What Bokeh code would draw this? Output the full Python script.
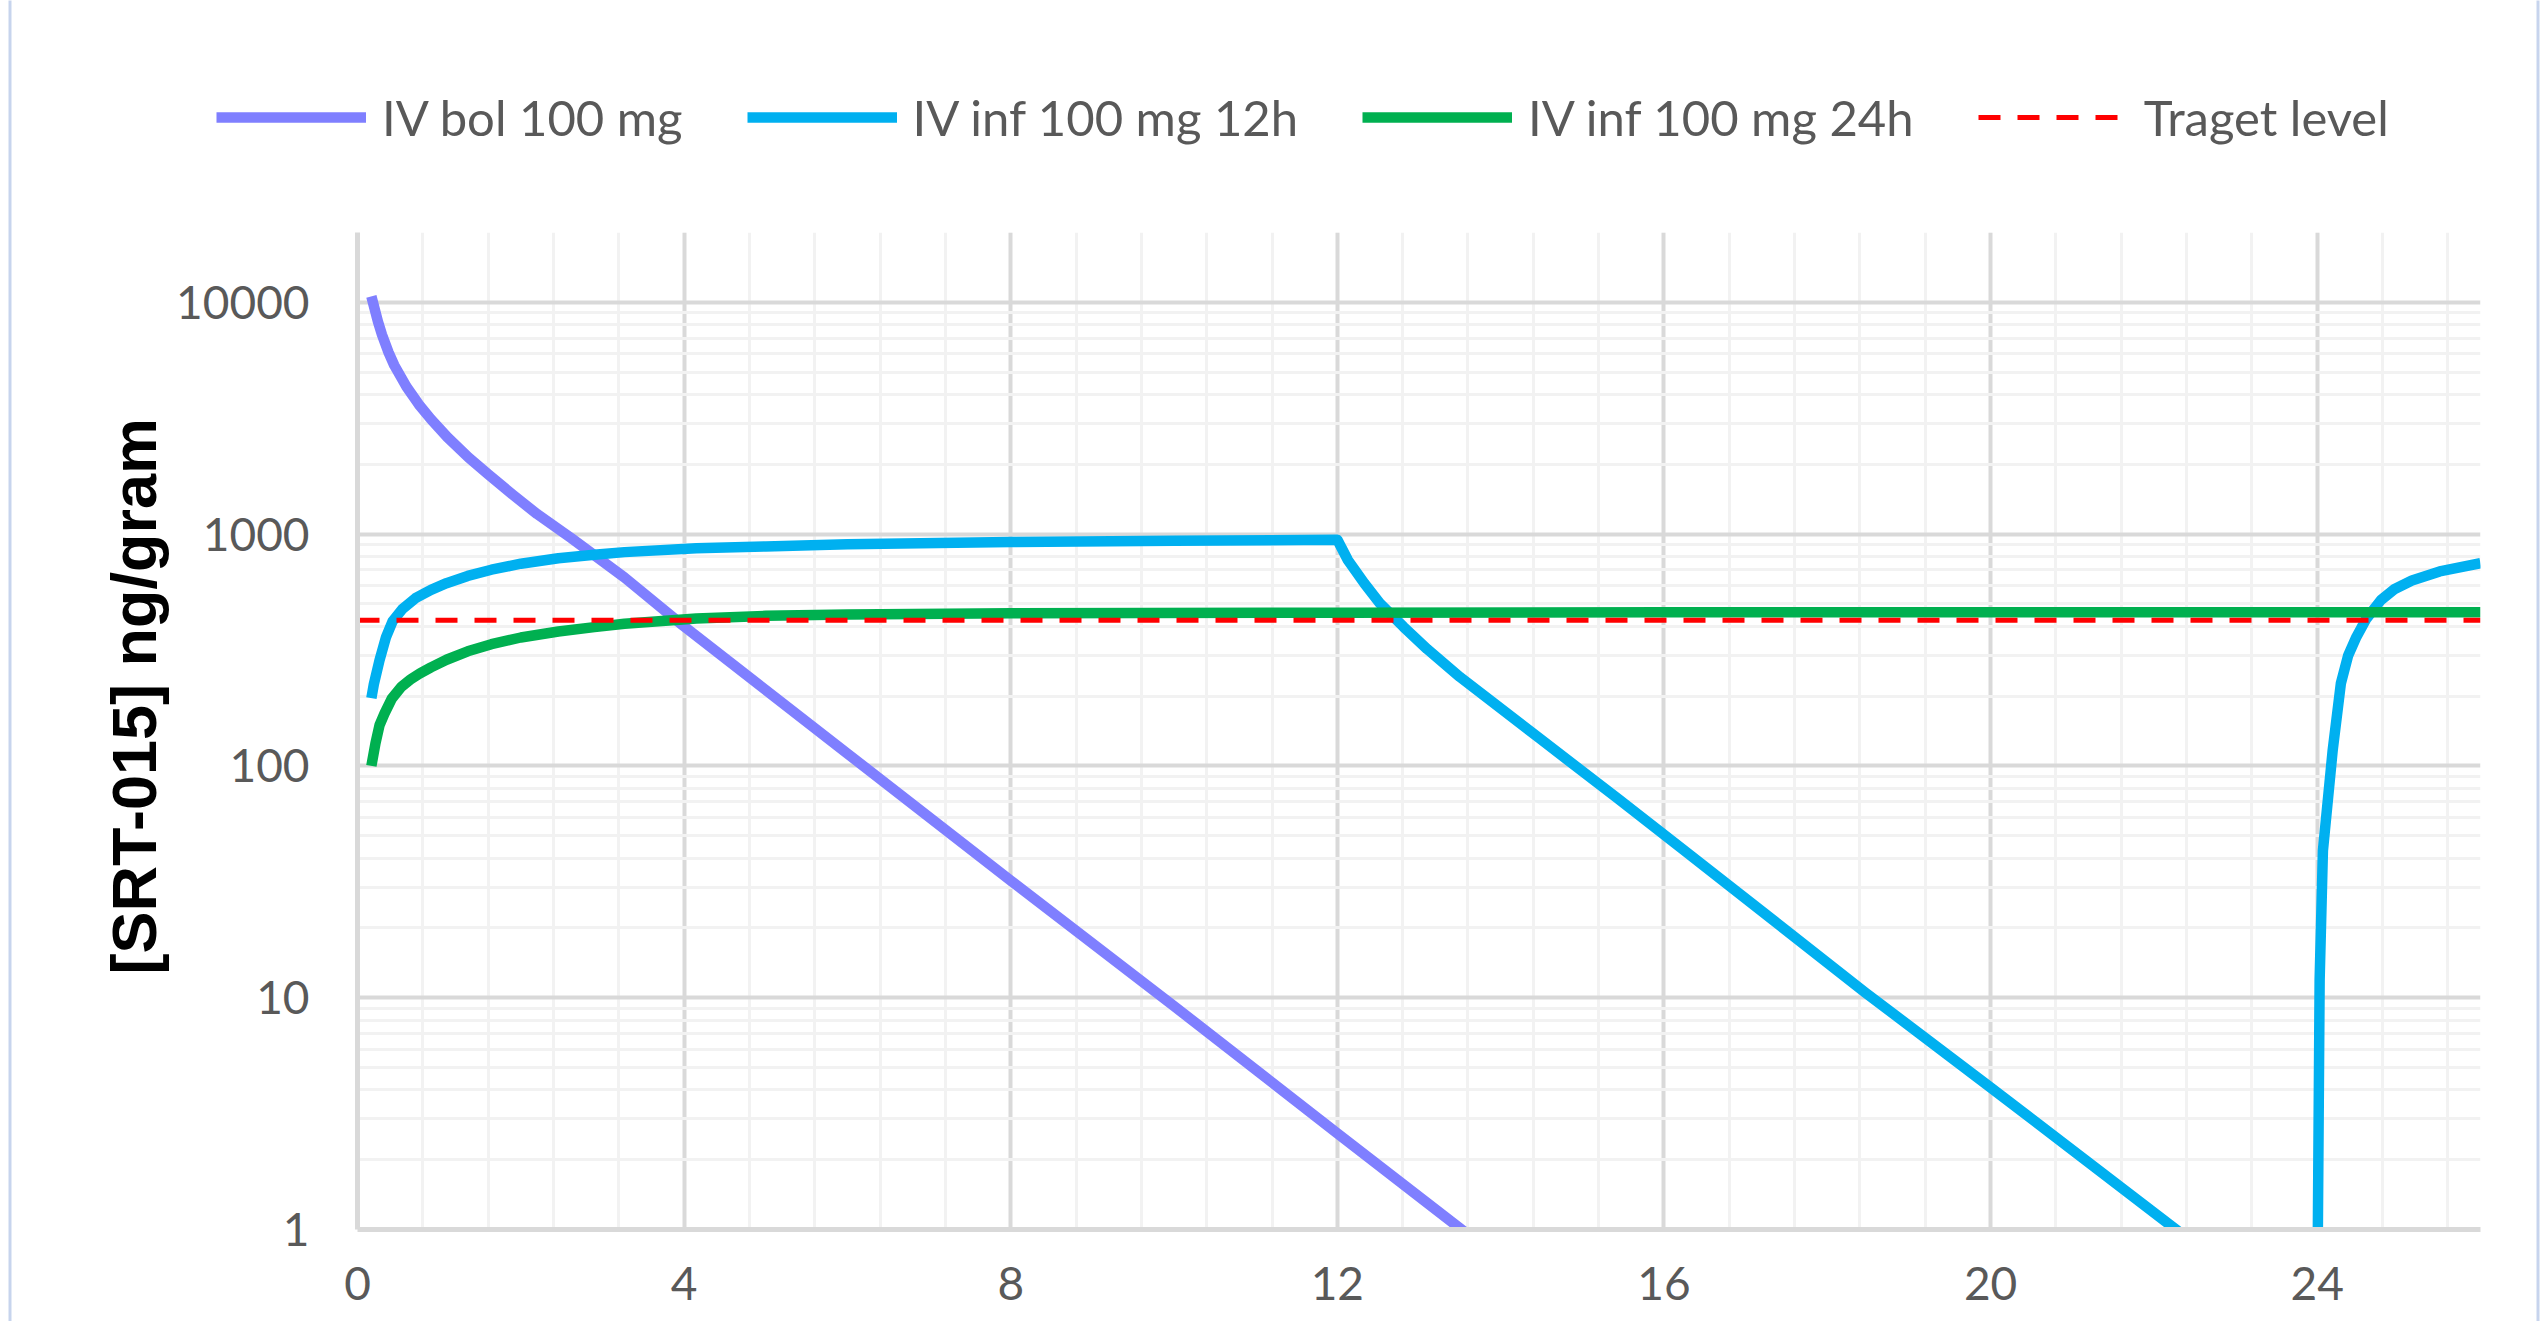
from bokeh.plotting import figure
from bokeh.models import (Range1d, FixedTicker, NumeralTickFormatter, Legend, LegendItem, Title,
                          BoxAnnotation)
from bokeh.embed import file_html
from bokeh.resources import INLINE

# ---- data ----
t_bolus = [0.17, 0.25, 0.30, 0.38, 0.45, 0.6, 0.75, 0.9, 1.1, 1.36, 1.6, 1.91, 2.2, 2.62, 3.27, 3.98,
           6.0, 8.0, 10.0, 12.0, 13.52, 14.0]
c_bolus = [10600, 8260, 7240, 6080, 5350, 4320, 3630, 3130, 2620, 2140, 1810, 1470, 1220, 960, 650, 405,
           113, 32, 9.2, 2.6, 1.0, 0.74]

t_inf12 = [0.17, 0.2, 0.27, 0.35, 0.43, 0.55, 0.71, 0.9, 1.09, 1.35, 1.64, 2.0, 2.46, 2.9, 3.27, 4.15,
           5.0, 6.0, 8.0, 10.0, 12.0,
           12.13, 12.33, 12.52, 12.81, 13.1, 13.5, 14.47, 15.44, 16.22, 18.47, 20.0, 22.27, 23.0, 24.0,
           24.03, 24.07, 24.19, 24.29, 24.38, 24.48, 24.6, 24.78, 24.95, 25.16, 25.5, 26.0]
c_inf12 = [196, 225, 286, 360, 421, 475, 529, 575, 614, 660, 702, 745, 787, 815, 836, 869,
           885, 905, 925, 935, 945,
           771, 614, 503, 398, 319, 242, 132, 72, 44, 10.5, 4.1, 1.0, 0.63, 0.40,
           12, 43, 117, 227, 300, 360, 430, 519, 580, 631, 690, 749]

t_inf24 = [0.17, 0.22, 0.27, 0.33, 0.42, 0.54, 0.65, 0.76, 0.9, 1.09, 1.35, 1.64, 2.0, 2.46, 2.9, 3.27,
           4.15, 5.0, 6.0, 8.0, 12.0, 16.0, 20.0, 26.0]
c_inf24 = [100, 125, 150, 168, 195, 220, 236, 250, 266, 287, 312, 335, 358, 380, 397, 410,
           432, 444, 450, 455, 458, 460, 460, 460]

t_target = [0, 26]
c_target = [425, 425]

series_names = ["IV bol 100 mg", "IV inf 100 mg 12h", "IV inf 100 mg 24h", "Traget level"]
series_colors = ["#7F7FFF", "#00B0F0", "#00B050", "#FF0000"]
x_ticks = [0, 4, 8, 12, 16, 20, 24]
x_minor = [round(0.8 * i, 1) for i in range(1, 33)]
y_ticks = [1, 10, 100, 1000, 10000]
y_minor = [m * 10 ** e for e in range(0, 5) for m in range(2, 10)] + [20000]
y_title = "[SRT-015] ng/gram"

# ---- main figure ----
p = figure(frame_width=2123, frame_height=997,
           x_range=Range1d(0, 26), y_range=Range1d(1, 20000), y_axis_type="log",
           output_backend="svg", toolbar_location=None,
           min_border_left=357, min_border_right=58, min_border_top=232, min_border_bottom=92)
p.outline_line_color = None
p.background_fill_color = "white"
p.border_fill_color = "white"

xt = FixedTicker(ticks=x_ticks, minor_ticks=x_minor)
yt = FixedTicker(ticks=y_ticks, minor_ticks=y_minor)
p.xaxis.ticker = xt
p.yaxis.ticker = yt
p.xgrid.ticker = xt
p.ygrid.ticker = yt
p.yaxis.formatter = NumeralTickFormatter(format="0")

for g in (p.xgrid, p.ygrid):
    g.grid_line_color = "#D9D9D9"
    g.grid_line_width = 4
    g.minor_grid_line_color = "#F2F2F2"
    g.minor_grid_line_width = 3

for ax in (p.xaxis, p.yaxis):
    ax.axis_line_color = "#D9D9D9"
    ax.axis_line_width = 5
    ax.major_label_text_font = "Lato"
    ax.major_label_text_font_size = "46px"
    ax.major_label_text_color = "#595959"
    ax.major_tick_out = 0
    ax.major_tick_in = 0
    ax.minor_tick_out = 0
    ax.minor_tick_in = 0

p.xaxis.major_label_standoff = 37
p.yaxis.major_label_standoff = 48

p.line(t_bolus, c_bolus, line_color=series_colors[0], line_width=10.5, line_join="round")
p.line(t_inf12, c_inf12, line_color=series_colors[1], line_width=10.5, line_join="round")
p.line(t_inf24, c_inf24, line_color=series_colors[2], line_width=10.5, line_join="round")
p.line(t_target, c_target, line_color=series_colors[3], line_width=5, line_dash="22 17")

p.add_layout(Title(text=y_title, align="left", offset=255,
                   text_font="Liberation Sans", text_font_style="bold",
                   text_font_size="63px", text_color="#000000"), "left")

# ---- transparent overlay carrying the legend and the chart-area border ----
OW, OH = 2540, 1321
lg = figure(width=OW, height=OH, x_range=Range1d(0, 1), y_range=Range1d(0, 1),
            output_backend="svg", toolbar_location=None,
            x_axis_location=None, y_axis_location=None, min_border=0)
lg.styles = {"position": "absolute", "left": "0px", "top": "0px"}
lg.outline_line_color = None
lg.background_fill_alpha = 0
lg.border_fill_alpha = 0
lg.xgrid.visible = False
lg.ygrid.visible = False
lr = [lg.line([t_bolus[0]], [c_bolus[0]], line_color=series_colors[0], line_width=10.5),
      lg.line([t_inf12[0]], [c_inf12[0]], line_color=series_colors[1], line_width=10.5),
      lg.line([t_inf24[0]], [c_inf24[0]], line_color=series_colors[2], line_width=10.5),
      lg.line([t_target[0]], [c_target[0]], line_color=series_colors[3], line_width=5, line_dash="22 17")]
legend = Legend(items=[LegendItem(label=n, renderers=[r]) for n, r in zip(series_names, lr)],
                orientation="horizontal", location=(216, OH - 87 - 60),
                glyph_width=150, glyph_height=60, label_height=60, label_standoff=16, spacing=64,
                padding=0, margin=0, border_line_color=None, background_fill_alpha=0,
                label_text_font="Lato", label_text_font_size="49px", label_text_color="#595959")
lg.add_layout(legend)
lg.add_layout(BoxAnnotation(left=9.5, right=2537.5, bottom=-100, top=OH + 100,
                            left_units="screen", right_units="screen",
                            bottom_units="screen", top_units="screen",
                            fill_alpha=0, line_color="#4472C4", line_width=3))

open("out.html", "w").write(file_html([p, lg], INLINE))
